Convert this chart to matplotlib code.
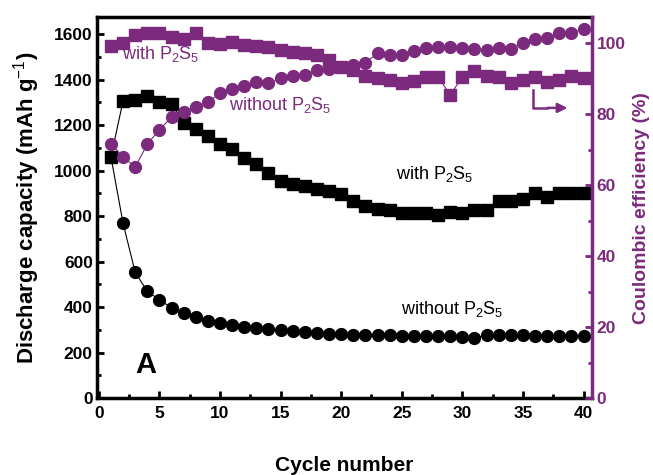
import numpy as np
import matplotlib.pyplot as plt

plt.rcParams['font.family'] = ['Liberation Sans', 'DejaVu Sans']
plt.rcParams['mathtext.fontset'] = 'custom'
plt.rcParams['mathtext.rm'] = 'Liberation Sans'
plt.rcParams['mathtext.it'] = 'Liberation Sans:italic'
plt.rcParams['mathtext.bf'] = 'Liberation Sans:bold'

purple = '#7B2A7D'

cycles = np.arange(1, 41)

# discharge capacity (mAh/g)
cap_with = [1060, 1307, 1311, 1329, 1302, 1293, 1211, 1184, 1153, 1118,
            1097, 1057, 1031, 991, 956, 943, 934, 921, 912, 899,
            865, 846, 833, 825, 813, 813, 813, 807, 820, 815,
            825, 829, 868, 868, 877, 900, 883, 900, 900, 902]
cap_without = [1060, 768, 553, 469, 432, 397, 373, 358, 340, 329,
               321, 314, 310, 302, 300, 296, 289, 285, 283, 280,
               279, 278, 277, 276, 275, 274, 273, 272, 271, 270,
               262, 278, 277, 276, 276, 275, 274, 273, 273, 272]

# coulombic efficiency (%)
ce_with = [99.2, 100.0, 102.3, 102.8, 102.8, 101.9, 101.1, 103.0, 100.2, 99.7,
           100.5, 99.5, 99.2, 99.0, 98.1, 97.6, 97.2, 96.7, 95.3, 93.4,
           92.5, 90.8, 90.1, 89.6, 88.7, 89.4, 90.4, 90.6, 85.4, 90.6,
           92.3, 90.8, 90.4, 88.7, 89.6, 90.6, 89.2, 89.6, 90.8, 90.1]
ce_without = [71.7, 68.0, 65.1, 71.6, 75.7, 79.1, 80.7, 82.1, 83.5, 85.9,
              87.0, 87.9, 89.2, 88.7, 90.1, 90.8, 91.0, 92.5, 92.7, 93.4,
              93.9, 94.5, 97.2, 96.7, 96.7, 97.9, 98.6, 99.0, 98.9, 98.6,
              98.3, 98.1, 98.8, 98.3, 100.2, 101.1, 101.4, 102.8, 103.0, 104.0]

fig = plt.figure(figsize=(6.53, 4.75), dpi=100)
ax = fig.add_axes([0.1486, 0.162, 0.758, 0.802])
ax2 = ax.twinx()

ax.plot(cycles, cap_with, 's-', color='black', ms=8.5, lw=0.8)
ax.plot(cycles, cap_without, 'o-', color='black', ms=8.5, lw=0.8)
ax2.plot(cycles, ce_with, 's-', color=purple, ms=8.5, lw=0.8)
ax2.plot(cycles, ce_without, 'o-', color=purple, ms=8.5, lw=0.8)

ax.set_xlim(-0.15, 40.7)
ax.set_ylim(0, 1675)
ax2.set_ylim(0, 107.4)

ax.set_xticks(np.arange(0, 41, 5))
ax.set_xticks(np.arange(0, 41, 2.5), minor=True)
ax.set_yticks(np.arange(0, 1601, 200))
ax.set_yticks(np.arange(0, 1601, 100), minor=True)
ax2.set_yticks(np.arange(0, 101, 20))
ax2.set_yticks(np.arange(0, 101, 10), minor=True)

ax.tick_params(which='both', direction='in', width=2, labelsize=12.5)
ax.tick_params(which='major', length=5)
ax.tick_params(which='minor', length=3)
ax.tick_params(axis='x', pad=6)
ax.tick_params(axis='y', pad=3)
ax2.tick_params(which='both', direction='in', width=2, color=purple,
                labelcolor=purple, labelsize=12.5)
ax2.tick_params(which='major', length=5)
ax2.tick_params(which='minor', length=3)
for lab in ax.get_xticklabels() + ax.get_yticklabels() + ax2.get_yticklabels():
    lab.set_fontweight('bold')

for s in ['left', 'bottom', 'top']:
    ax.spines[s].set_linewidth(2.5)
ax2.spines['right'].set_linewidth(2.5)
ax2.spines['right'].set_color(purple)
for s in ['left', 'bottom', 'top']:
    ax2.spines[s].set_visible(False)

ax.set_xlabel('Cycle number', fontsize=15, fontweight='bold', labelpad=25)
ax.set_ylabel('Discharge capacity (mAh g$^{-1}$)', fontsize=16, fontweight='bold', labelpad=9)
ax2.set_ylabel('Coulombic efficiency (%)', fontsize=14, fontweight='bold',
               color=purple, labelpad=5)

ax2.text(1.9, 95.6, 'with P$_2$S$_5$', color=purple, fontsize=13)
ax2.text(10.7, 81.2, 'without P$_2$S$_5$', color=purple, fontsize=13)
ax.text(24.5, 962, 'with P$_2$S$_5$', color='black', fontsize=13)
ax.text(24.9, 368, 'without P$_2$S$_5$', color='black', fontsize=13)
ax.text(3.0, 110, 'A', color='black', fontsize=21, fontweight='bold')

ax2.plot([35.8, 35.8, 37.0], [86.8, 81.8, 81.8], color=purple, lw=1.8)
ax2.annotate('', xy=(38.9, 81.8), xytext=(36.8, 81.8),
             arrowprops=dict(arrowstyle='-|>', color=purple, lw=1.8,
                             mutation_scale=14))

fig.savefig('out.png', dpi=100)
